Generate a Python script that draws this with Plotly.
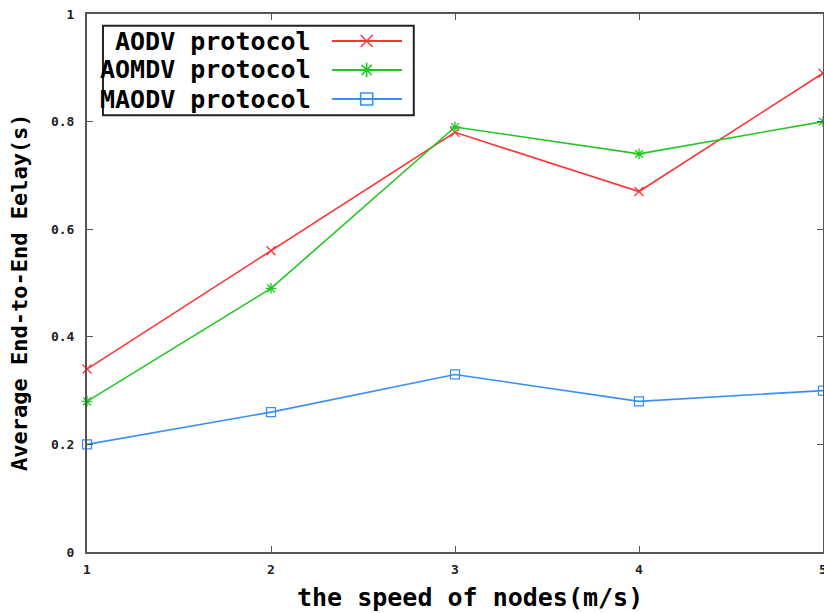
import plotly.graph_objects as go

speeds = [1, 2, 3, 4, 5]
aodv = [0.34, 0.56, 0.78, 0.67, 0.89]
aomdv = [0.28, 0.49, 0.79, 0.74, 0.80]
maodv = [0.20, 0.26, 0.33, 0.28, 0.30]
names = ["AODV protocol", "AOMDV protocol", "MAODV protocol"]
colors = ["#ff3333", "#22c722", "#3a8ff5"]
symbols = ["x-thin-open", "asterisk-open", "square-open"]
yticks = [0, 0.2, 0.4, 0.6, 0.8, 1]
yticktext = ["0", "0.2", "0.4", "0.6", "0.8", "1"]
xtitle = "the speed of nodes(m/s)"
ytitle = "Average End-to-End Eelay(s)"

FONT = "DejaVu Sans Mono"
fig = go.Figure()
for vals, name, c, s in zip([aodv, aomdv, maodv], names, colors, symbols):
    fig.add_trace(go.Scatter(
        x=speeds, y=vals, mode="lines+markers", name=name,
        line=dict(color=c, width=1.6),
        marker=dict(symbol=s, size=9, color=c, line=dict(color=c, width=1.3)),
        showlegend=False, cliponaxis=False))

# custom gnuplot-style legend (text left, sample right)
rows = [0.9498, 0.896, 0.842]
for yy, name, c, s in zip(rows, names, colors, symbols):
    fig.add_annotation(x=0.307, y=yy, xref="paper", yref="paper", text=name,
                       showarrow=False, xanchor="right", yanchor="middle",
                       font=dict(family=FONT, size=25, color="black", weight="bold"))
    fig.add_shape(type="line", xref="paper", yref="paper", x0=0.333, x1=0.428,
                  y0=yy, y1=yy, line=dict(color=c, width=2))
    fig.add_trace(go.Scatter(x=[0.380], y=[yy], xaxis="x2", yaxis="y2", mode="markers",
                             marker=dict(symbol=s, size=12, color=c, line=dict(color=c, width=1.6)),
                             showlegend=False, hoverinfo="skip"))
fig.add_shape(type="rect", xref="paper", yref="paper", x0=0.0217, x1=0.444,
              y0=0.812, y1=0.978, line=dict(color="#222", width=2), fillcolor="rgba(0,0,0,0)")

# axis titles
fig.add_annotation(x=0.52, y=-0.085, xref="paper", yref="paper", text=xtitle,
                   showarrow=False, xanchor="center", yanchor="middle",
                   font=dict(family=FONT, size=25, color="black", weight="bold"))
fig.add_annotation(x=-0.091, y=0.4833, xref="paper", yref="paper", text=ytitle,
                   showarrow=False, xanchor="center", yanchor="middle", textangle=-90,
                   font=dict(family=FONT, size=22, color="black", weight="bold"))

axis_common = dict(showgrid=False, zeroline=False, showline=True, linecolor="#555",
                   linewidth=2, ticks="inside", tickcolor="#555", ticklen=6, automargin=False,
                   mirror="ticks", ticklabeloverflow="allow",
                   tickfont=dict(family=FONT, size=13, color="#222", weight="bold"))
fig.update_layout(
    width=824, height=613, plot_bgcolor="white", paper_bgcolor="white",
    margin=dict(l=87, r=1, t=14, b=61),
    xaxis=dict(range=[1, 5], tickvals=speeds, ticktext=[str(v) for v in speeds],
               ticklabelstandoff=4, **axis_common),
    yaxis=dict(range=[0, 1], tickvals=yticks, ticktext=yticktext,
               ticklabelstandoff=8, **axis_common),
    xaxis2=dict(range=[0, 1], overlaying="x", visible=False, fixedrange=True),
    yaxis2=dict(range=[0, 1], overlaying="y", visible=False, fixedrange=True),
)
fig.write_html("out.html", config={"displayModeBar": False},
               post_script="document.body.style.margin='0px';")
